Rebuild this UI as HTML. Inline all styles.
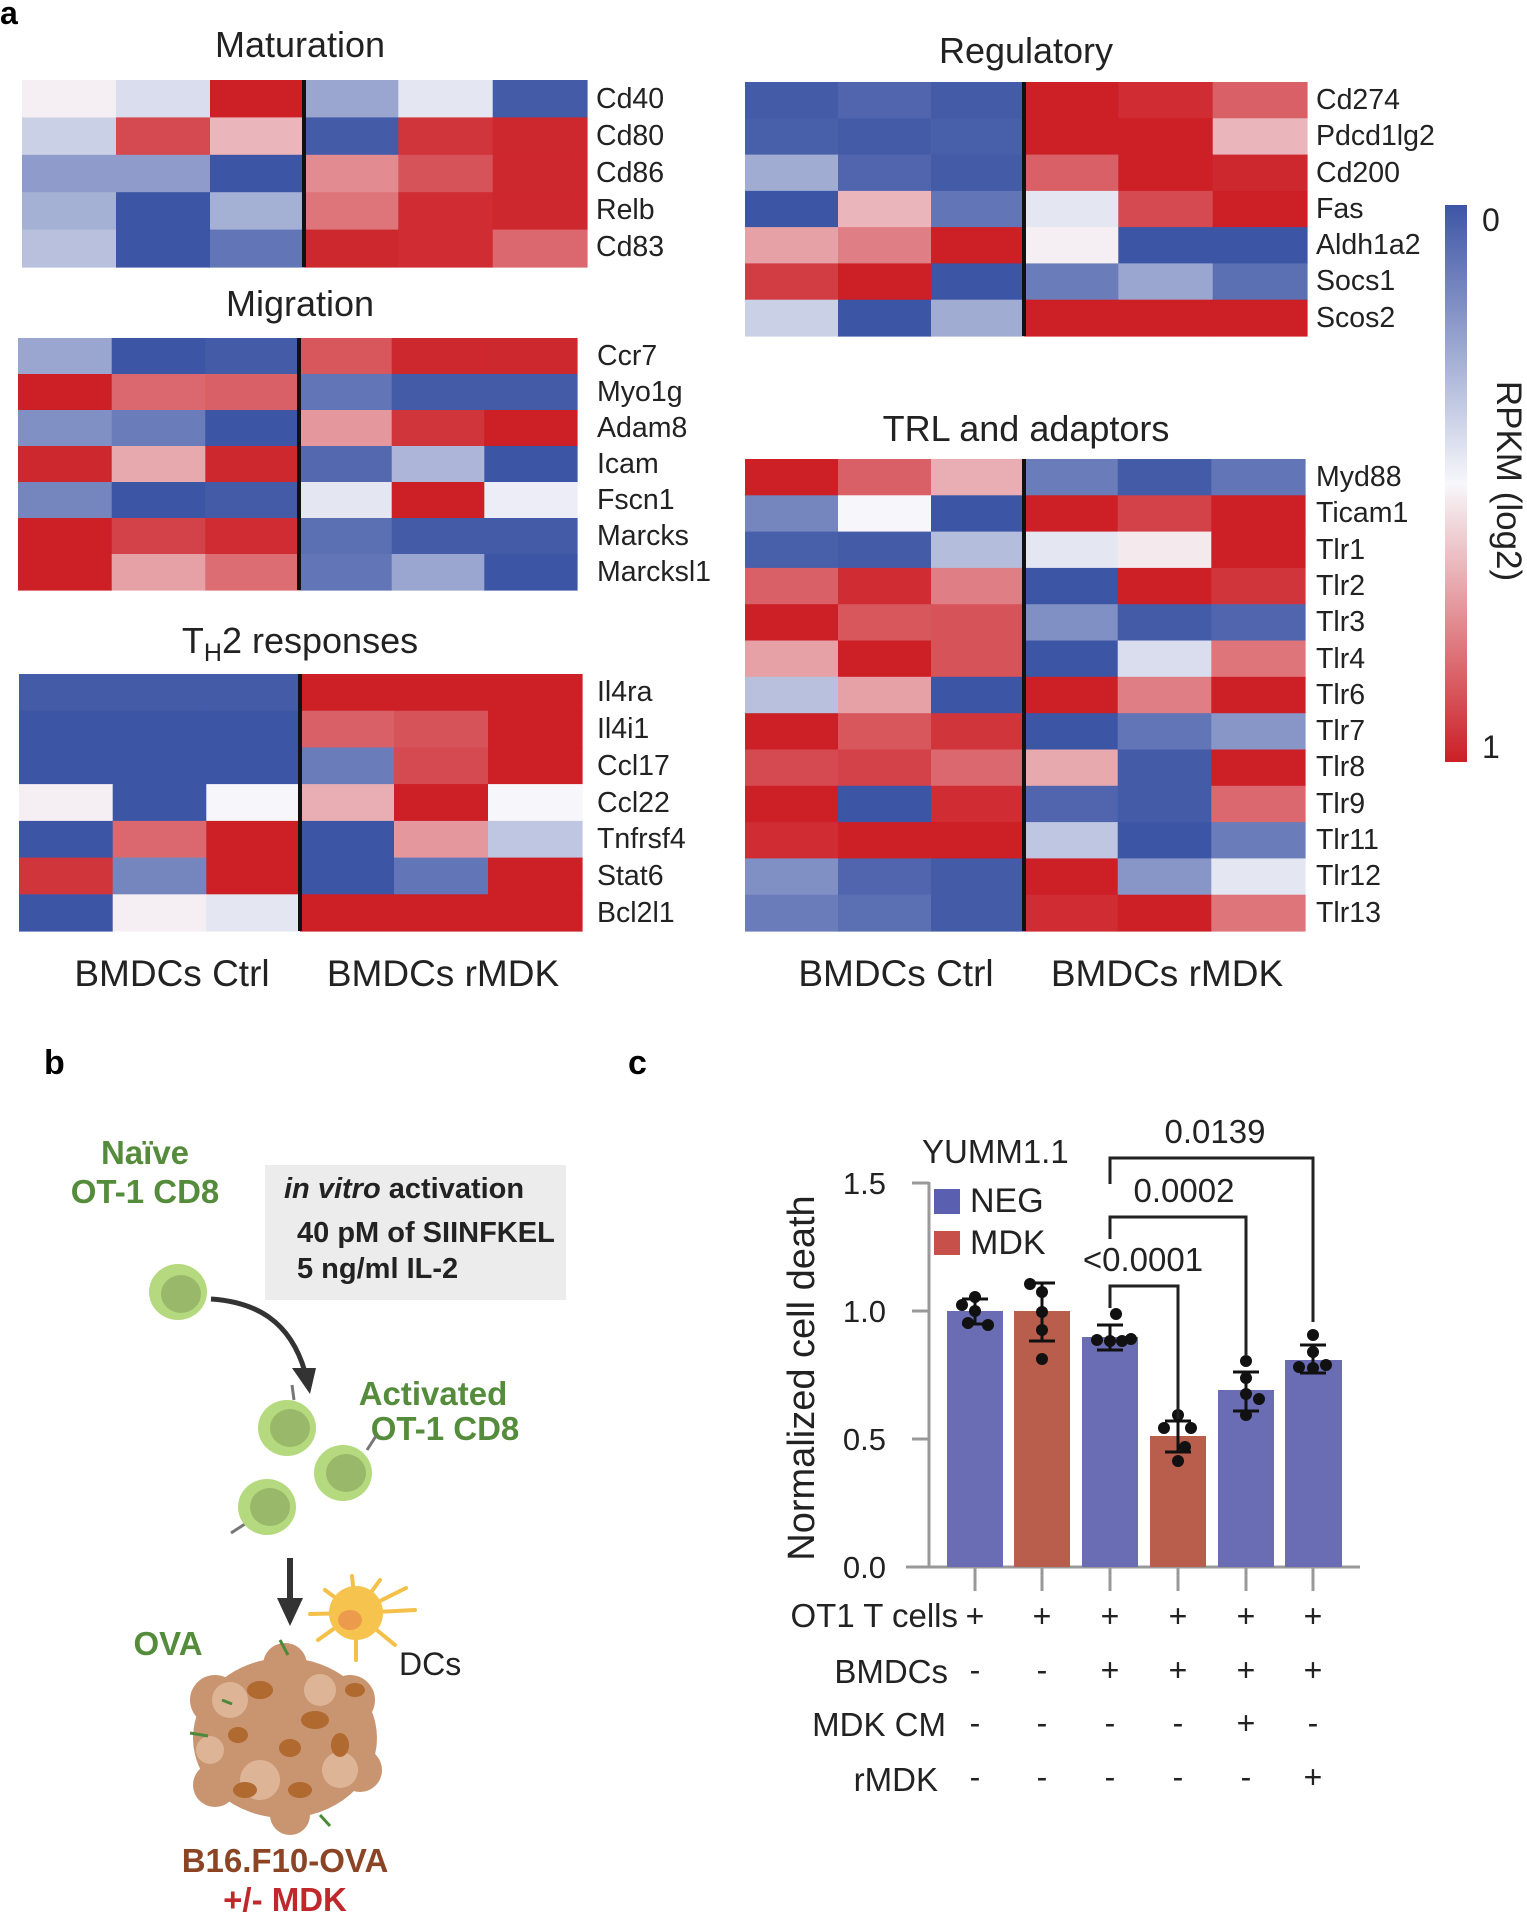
<!DOCTYPE html>
<html><head><meta charset="utf-8"><style>
html,body{margin:0;padding:0;background:#fff;}
svg{display:block;font-family:"Liberation Sans",Arial,sans-serif;}
</style></head><body>
<svg id="s" width="1527" height="1914" viewBox="0 0 1527 1914" xmlns="http://www.w3.org/2000/svg">
<defs>
<linearGradient id="cb" x1="0" y1="0" x2="0" y2="1">
<stop offset="0" stop-color="#3d55a5"/><stop offset="0.5" stop-color="#f7f7fb"/><stop offset="1" stop-color="#cc1f26"/>
</linearGradient>
</defs>
<g id="hm"></g>
<text x="0" y="24" font-size="32" font-weight="bold">a</text>
<g font-size="36" fill="#222" text-anchor="middle">
<text x="300" y="57">Maturation</text>
<text x="300" y="316">Migration</text>
<text x="300" y="653">T<tspan font-size="25" dy="8">H</tspan><tspan dy="-8">2 responses</tspan></text>
<text x="1026" y="63">Regulatory</text>
<text x="1026" y="441">TRL and adaptors</text>
</g>
<g font-size="37" fill="#222" text-anchor="middle">
<text x="172" y="986">BMDCs Ctrl</text>
<text x="443" y="986">BMDCs rMDK</text>
<text x="896" y="986">BMDCs Ctrl</text>
<text x="1167" y="986">BMDCs rMDK</text>
</g>
<g font-size="28.5" fill="#222">
<text x="596" y="108">Cd40</text><text x="596" y="145">Cd80</text><text x="596" y="182">Cd86</text><text x="596" y="219">Relb</text><text x="596" y="256">Cd83</text>
<text x="597" y="365">Ccr7</text><text x="597" y="401">Myo1g</text><text x="597" y="437">Adam8</text><text x="597" y="473">Icam</text><text x="597" y="509">Fscn1</text><text x="597" y="545">Marcks</text><text x="597" y="581">Marcksl1</text>
<text x="597" y="701">Il4ra</text><text x="597" y="738">Il4i1</text><text x="597" y="775">Ccl17</text><text x="597" y="812">Ccl22</text><text x="597" y="848">Tnfrsf4</text><text x="597" y="885">Stat6</text><text x="597" y="922">Bcl2l1</text>
<text x="1316" y="109">Cd274</text><text x="1316" y="145">Pdcd1lg2</text><text x="1316" y="182">Cd200</text><text x="1316" y="218">Fas</text><text x="1316" y="254">Aldh1a2</text><text x="1316" y="290">Socs1</text><text x="1316" y="327">Scos2</text>
<text x="1316" y="486">Myd88</text><text x="1316" y="522">Ticam1</text><text x="1316" y="559">Tlr1</text><text x="1316" y="595">Tlr2</text><text x="1316" y="631">Tlr3</text><text x="1316" y="668">Tlr4</text><text x="1316" y="704">Tlr6</text><text x="1316" y="740">Tlr7</text><text x="1316" y="776">Tlr8</text><text x="1316" y="813">Tlr9</text><text x="1316" y="849">Tlr11</text><text x="1316" y="885">Tlr12</text><text x="1316" y="922">Tlr13</text>
</g>
<rect x="1445" y="205" width="22" height="557" fill="url(#cb)"/>
<text x="1482" y="231" font-size="32" fill="#222">0</text>
<text x="1482" y="758" font-size="32" fill="#222">1</text>
<text transform="translate(1497,481) rotate(90)" font-size="35" fill="#222" text-anchor="middle">RPKM (log2)</text>

<!-- panel b -->
<text x="44" y="1074" font-size="34" font-weight="bold">b</text>
<g font-weight="bold" fill="#548c3c" font-size="33" text-anchor="middle">
<text x="145" y="1164">Naïve</text><text x="145" y="1203">OT-1 CD8</text>
<text x="433" y="1405">Activated</text><text x="445" y="1440">OT-1 CD8</text>
<text x="168" y="1655">OVA</text>
</g>
<rect x="265" y="1165" width="301" height="135" fill="#ececec"/>
<g font-weight="bold" font-size="29" fill="#222">
<text x="284" y="1198"><tspan font-style="italic">in vitro</tspan> activation</text>
<text x="297" y="1242">40 pM of SIINFKEL</text>
<text x="297" y="1278">5 ng/ml IL-2</text>
</g>
<g>
<ellipse cx="178" cy="1292" rx="29" ry="28" fill="#b4d97e"/><ellipse cx="181" cy="1294" rx="20" ry="19" fill="#9ab86a"/>
<path d="M211 1299 C255 1302 290 1320 305 1372" stroke="#333" stroke-width="5" fill="none"/>
<polygon points="292,1368 316,1368 310,1394" fill="#333"/>
<line x1="294" y1="1400" x2="292" y2="1385" stroke="#777" stroke-width="3"/>
<ellipse cx="287" cy="1428" rx="29" ry="28" fill="#b4d97e"/><ellipse cx="290" cy="1428" rx="20" ry="19" fill="#9ab86a"/>
<line x1="367" y1="1450" x2="376" y2="1436" stroke="#777" stroke-width="3"/>
<ellipse cx="343" cy="1473" rx="29" ry="28" fill="#b4d97e"/><ellipse cx="346" cy="1473" rx="20" ry="19" fill="#9ab86a"/>
<line x1="245" y1="1524" x2="231" y2="1533" stroke="#777" stroke-width="3"/>
<ellipse cx="267" cy="1507" rx="29" ry="28" fill="#b4d97e"/><ellipse cx="270" cy="1507" rx="20" ry="19" fill="#9ab86a"/>
<line x1="290" y1="1558" x2="290" y2="1600" stroke="#333" stroke-width="6"/>
<polygon points="277,1598 303,1598 290,1626" fill="#333"/>
<g stroke="#f4c04a" stroke-width="4" stroke-linecap="round">
<line x1="356" y1="1613" x2="310" y2="1614"/><line x1="356" y1="1613" x2="406" y2="1588"/><line x1="356" y1="1613" x2="415" y2="1610"/><line x1="356" y1="1613" x2="352" y2="1576"/><line x1="356" y1="1613" x2="325" y2="1590"/><line x1="356" y1="1613" x2="380" y2="1580"/><line x1="356" y1="1613" x2="356" y2="1660"/><line x1="356" y1="1613" x2="395" y2="1645"/><line x1="356" y1="1613" x2="318" y2="1640"/>
</g>
<circle cx="356" cy="1613" r="27" fill="#f6c44e"/><ellipse cx="350" cy="1620" rx="12" ry="10" fill="#ec9a4c"/>
<text x="399" y="1675" font-size="32" fill="#222">DCs</text>
<g fill="#c99470">
<ellipse cx="285" cy="1738" rx="92" ry="80"/>
<circle cx="215" cy="1700" r="25"/><circle cx="350" cy="1700" r="25"/><circle cx="360" cy="1770" r="22"/><circle cx="215" cy="1785" r="22"/><circle cx="285" cy="1665" r="22"/><circle cx="290" cy="1815" r="20"/>
</g>
<g fill="#ddb596"><circle cx="230" cy="1700" r="18"/><circle cx="320" cy="1690" r="16"/><circle cx="260" cy="1780" r="20"/><circle cx="340" cy="1770" r="18"/><circle cx="210" cy="1750" r="14"/></g>
<g fill="#b0692e"><ellipse cx="260" cy="1690" rx="13" ry="9"/><ellipse cx="315" cy="1720" rx="14" ry="9"/><ellipse cx="238" cy="1735" rx="10" ry="8"/><ellipse cx="290" cy="1748" rx="11" ry="9"/><ellipse cx="300" cy="1790" rx="12" ry="8"/><ellipse cx="340" cy="1745" rx="9" ry="12"/><ellipse cx="245" cy="1790" rx="12" ry="8"/><ellipse cx="355" cy="1690" rx="10" ry="7"/></g>
<g stroke="#4a8a3a" stroke-width="3"><line x1="280" y1="1640" x2="288" y2="1655"/><line x1="190" y1="1733" x2="208" y2="1736"/><line x1="320" y1="1815" x2="330" y2="1826"/><line x1="222" y1="1700" x2="232" y2="1704"/></g>
<text x="285" y="1872" font-size="33" font-weight="bold" fill="#8b4525" text-anchor="middle">B16.F10-OVA</text>
<text x="285" y="1911" font-size="33" font-weight="bold" fill="#c0282c" text-anchor="middle">+/- MDK</text>
</g>

<!-- panel c -->
<text x="628" y="1074" font-size="34" font-weight="bold">c</text>
<g stroke="#999" stroke-width="3" fill="none">
<line x1="929" y1="1182" x2="929" y2="1567"/>
<line x1="906" y1="1567" x2="1360" y2="1567"/>
<line x1="912" y1="1183" x2="929" y2="1183"/><line x1="912" y1="1311" x2="929" y2="1311"/><line x1="912" y1="1439" x2="929" y2="1439"/>
<line x1="975" y1="1567" x2="975" y2="1591"/><line x1="1042" y1="1567" x2="1042" y2="1591"/><line x1="1110" y1="1567" x2="1110" y2="1591"/><line x1="1178" y1="1567" x2="1178" y2="1591"/><line x1="1246" y1="1567" x2="1246" y2="1591"/><line x1="1313" y1="1567" x2="1313" y2="1591"/>
</g>
<g font-size="31" fill="#222" text-anchor="end">
<text x="886" y="1194">1.5</text><text x="886" y="1322">1.0</text><text x="886" y="1450">0.5</text><text x="886" y="1578">0.0</text>
</g>
<text transform="translate(814,1378) rotate(-90)" font-size="38" fill="#222" text-anchor="middle">Normalized cell death</text>
<g>
<rect x="947" y="1311" width="56" height="256" fill="#6a6cb4"/>
<rect x="1014" y="1311" width="56" height="256" fill="#b95e4c"/>
<rect x="1082" y="1337" width="56" height="230" fill="#6a6cb4"/>
<rect x="1150" y="1436" width="56" height="131" fill="#b95e4c"/>
<rect x="1218" y="1390" width="56" height="177" fill="#6a6cb4"/>
<rect x="1285" y="1360" width="57" height="207" fill="#6a6cb4"/>
</g>
<g stroke="#111" stroke-width="3" fill="none">
<path d="M962 1299H988M975 1299V1324M962 1324H988"/>
<path d="M1029 1283H1055M1042 1283V1341M1029 1341H1055"/>
<path d="M1097 1325H1123M1110 1325V1350M1097 1350H1123"/>
<path d="M1165 1421H1191M1178 1421V1452M1165 1452H1191"/>
<path d="M1233 1372H1259M1246 1372V1411M1233 1411H1259"/>
<path d="M1300 1345H1326M1313 1345V1373M1300 1373H1326"/>
</g>
<g fill="#111">
<circle cx="962" cy="1305" r="6"/><circle cx="975" cy="1297" r="6"/><circle cx="968" cy="1323" r="6"/><circle cx="988" cy="1325" r="6"/><circle cx="975" cy="1311" r="6"/>
<circle cx="1030" cy="1284" r="6"/><circle cx="1042" cy="1292" r="6"/><circle cx="1042" cy="1312" r="6"/><circle cx="1042" cy="1330" r="6"/><circle cx="1042" cy="1359" r="6"/>
<circle cx="1097" cy="1340" r="6"/><circle cx="1110" cy="1341" r="6"/><circle cx="1122" cy="1341" r="6"/><circle cx="1131" cy="1339" r="6"/><circle cx="1116" cy="1314" r="6"/>
<circle cx="1164" cy="1428" r="6"/><circle cx="1178" cy="1415" r="6"/><circle cx="1191" cy="1428" r="6"/><circle cx="1185" cy="1447" r="6"/><circle cx="1178" cy="1461" r="6"/>
<circle cx="1246" cy="1361" r="6"/><circle cx="1246" cy="1378" r="6"/><circle cx="1259" cy="1399" r="6"/><circle cx="1246" cy="1394" r="6"/><circle cx="1246" cy="1415" r="6"/>
<circle cx="1313" cy="1335" r="6"/><circle cx="1313" cy="1352" r="6"/><circle cx="1299" cy="1367" r="6"/><circle cx="1313" cy="1368" r="6"/><circle cx="1326" cy="1365" r="6"/>
</g>
<g stroke="#222" stroke-width="3" fill="none">
<path d="M1110 1308V1286H1178V1419"/>
<path d="M1110 1239V1217H1246V1356"/>
<path d="M1110 1184V1158H1313V1322"/>
</g>
<g font-size="33" fill="#222" text-anchor="middle">
<text x="1143" y="1271">&lt;0.0001</text>
<text x="1184" y="1202">0.0002</text>
<text x="1215" y="1143">0.0139</text>
</g>
<text x="922" y="1163" font-size="33" fill="#222">YUMM1.1</text>
<rect x="934" y="1189" width="26" height="25" fill="#5a5fb0"/>
<rect x="934" y="1231" width="26" height="24" fill="#c7504a"/>
<text x="970" y="1212" font-size="34" fill="#222">NEG</text>
<text x="970" y="1254" font-size="34" fill="#222">MDK</text>
<g font-size="33" fill="#222" text-anchor="end">
<text x="958" y="1627">OT1 T cells</text><text x="948" y="1683">BMDCs</text><text x="946" y="1736">MDK CM</text><text x="938" y="1791">rMDK</text>
</g>
<g font-size="32" fill="#222" text-anchor="middle">
<text x="975" y="1627">+</text><text x="1042" y="1627">+</text><text x="1110" y="1627">+</text><text x="1178" y="1627">+</text><text x="1246" y="1627">+</text><text x="1313" y="1627">+</text>
<text x="975" y="1681">-</text><text x="1042" y="1681">-</text><text x="1110" y="1681">+</text><text x="1178" y="1681">+</text><text x="1246" y="1681">+</text><text x="1313" y="1681">+</text>
<text x="975" y="1734">-</text><text x="1042" y="1734">-</text><text x="1110" y="1734">-</text><text x="1178" y="1734">-</text><text x="1246" y="1734">+</text><text x="1313" y="1734">-</text>
<text x="975" y="1788">-</text><text x="1042" y="1788">-</text><text x="1110" y="1788">-</text><text x="1178" y="1788">-</text><text x="1246" y="1788">-</text><text x="1313" y="1788">+</text>
</g>
</svg>
<script>
(function(){
var B=[61,85,165],W=[247,247,251],R=[204,31,38];
function col(v){var a,b,t;if(v<0.5){a=B;b=W;t=v/0.5;}else{a=W;b=R;t=(v-0.5)/0.5;}
return 'rgb('+a.map(function(x,i){return Math.round(x+(b[i]-x)*t);}).join(',')+')';}
var blocks=[
{x0:22,x1:587,y0:80,y1:267,d:304,v:[[.52,.42,1,.25,.45,.02],[.38,.9,.65,.02,.95,.98],[.22,.22,0,.75,.88,.98],[.28,0,.28,.8,.97,.98],[.33,0,.1,.98,.97,.83]]},
{x0:18,x1:577,y0:338,y1:590,d:299,v:[[.25,0,.02,.87,.98,.98],[1,.83,.85,.1,.02,.02],[.18,.12,0,.72,.95,1],[.98,.68,.98,.06,.3,0],[.15,0,.02,.45,1,.47],[1,.92,.97,.08,.02,.02],[1,.7,.82,.1,.25,0]]},
{x0:19,x1:582,y0:674,y1:931,d:300,v:[[.02,.02,.02,1,1,1],[0,0,0,.85,.88,1],[0,0,0,.12,.9,1],[.52,0,.5,.67,1,.5],[0,.83,1,0,.72,.35],[.95,.15,1,0,.1,1],[0,.52,.45,1,1,1]]},
{x0:745,x1:1307,y0:82,y1:336,d:1024,v:[[.02,.05,.02,1,.97,.85],[.03,.02,.03,1,1,.65],[.27,.05,.02,.85,1,.98],[0,.65,.1,.45,.9,1],[.7,.78,1,.52,0,0],[.93,1,0,.12,.25,.08],[.38,0,.27,1,1,1]]},
{x0:745,x1:1305,y0:459,y1:931,d:1024,v:[[1,.85,.67,.12,.02,.1],[.15,.5,0,1,.92,1],[.03,.02,.32,.45,.53,1],[.85,.97,.78,0,1,.95],[1,.87,.88,.18,.02,.05],[.7,1,.88,0,.42,.8],[.33,.7,0,1,.78,1],[1,.87,.95,0,.1,.2],[.9,.92,.83,.68,.02,1],[1,0,.97,.05,.02,.83],[.97,1,1,.35,0,.12],[.18,.05,.02,1,.2,.45],[.12,.08,.02,.97,1,.8]]}
];
var g=document.getElementById('hm'),h='';
blocks.forEach(function(b){
 var n=b.v.length,rh=(b.y1-b.y0)/n,cl=(b.d-b.x0)/3,cr=(b.x1-b.d)/3;
 b.v.forEach(function(row,i){row.forEach(function(v,j){
  var x=j<3?b.x0+j*cl:b.d+(j-3)*cr,w=j<3?cl:cr;
  h+='<rect x="'+x.toFixed(1)+'" y="'+(b.y0+i*rh).toFixed(1)+'" width="'+(w+0.6).toFixed(1)+'" height="'+(rh+0.6).toFixed(1)+'" fill="'+col(v)+'"/>';
 });});
 h+='<line x1="'+b.d+'" y1="'+b.y0+'" x2="'+b.d+'" y2="'+b.y1+'" stroke="#111" stroke-width="4"/>';
});
g.innerHTML=h;
})();
</script>
</body></html>
